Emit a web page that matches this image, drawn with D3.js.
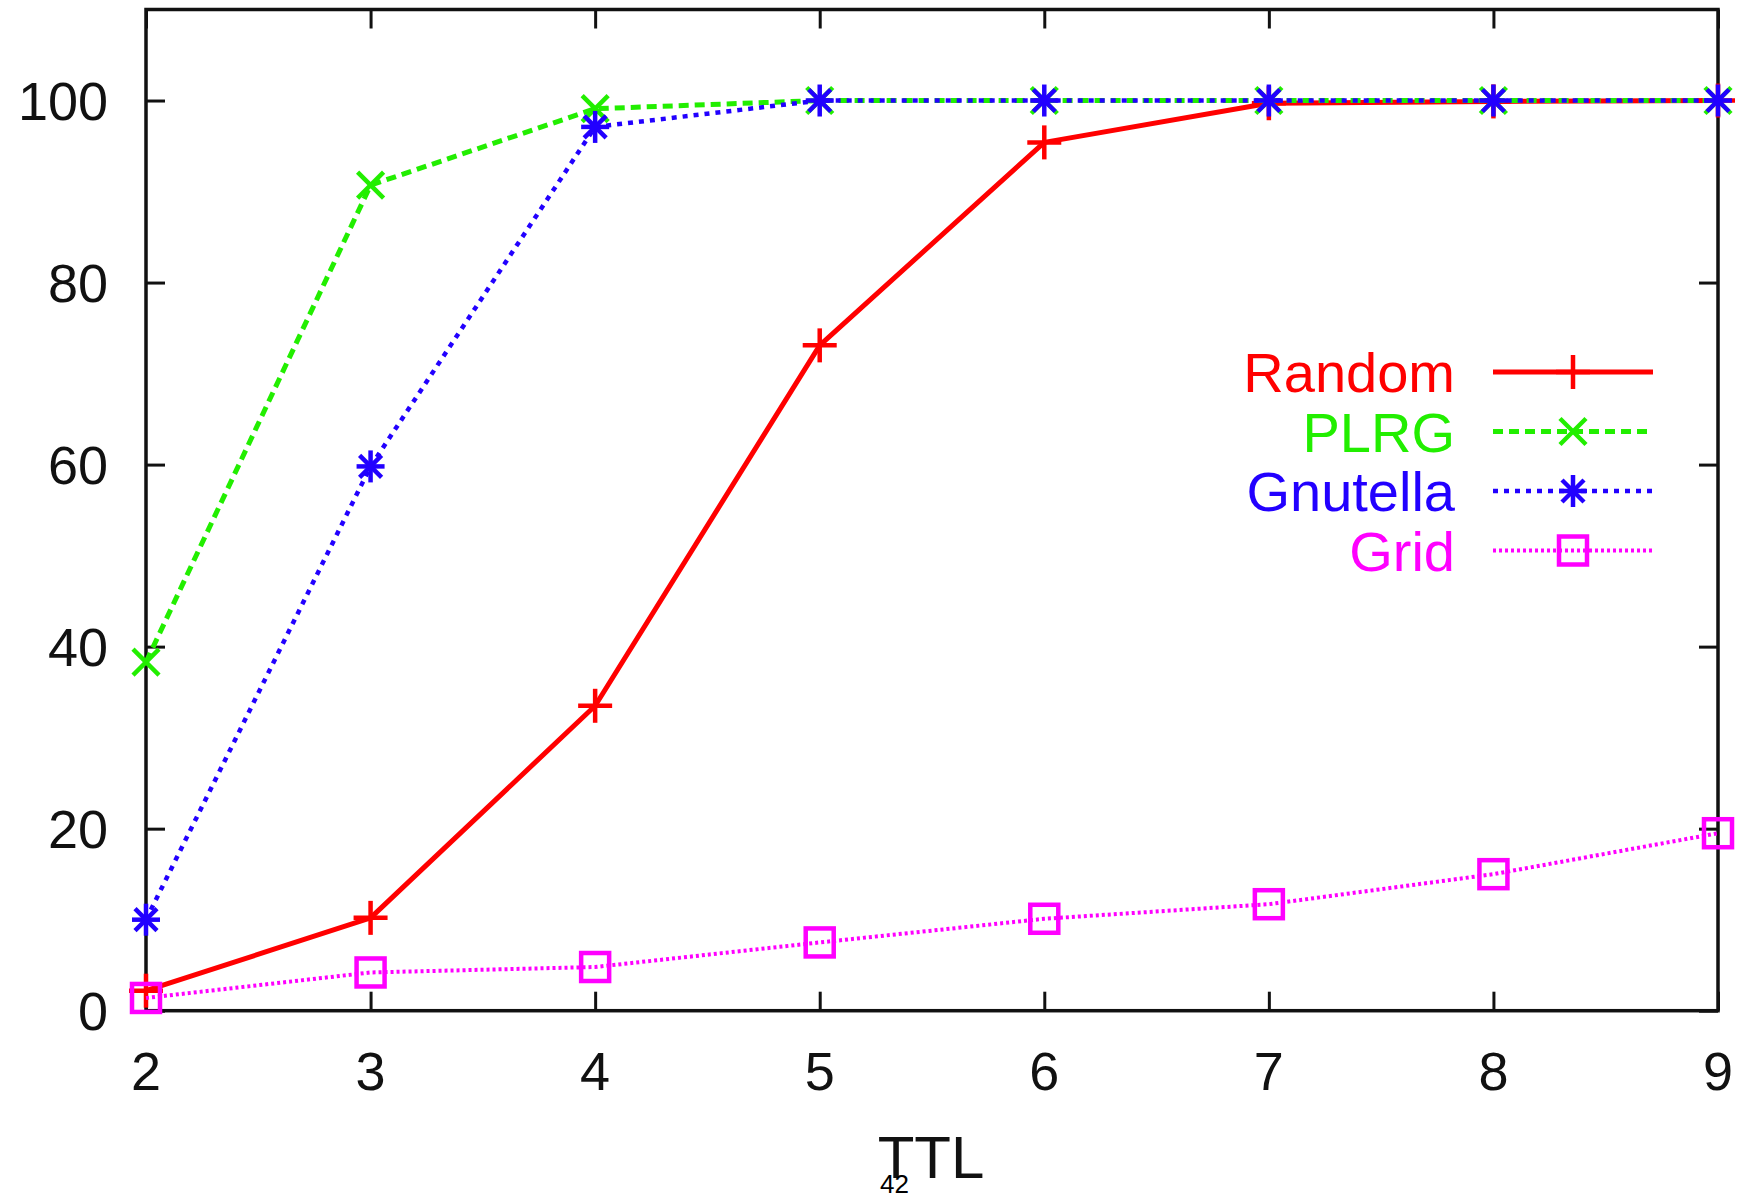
<!DOCTYPE html>
<html><head><meta charset="utf-8">
<script src="https://cdn.jsdelivr.net/npm/d3@7"></script>
<style>html,body{margin:0;padding:0;background:#fff;}svg{display:block;}</style>
</head><body>
<script>
const ttl = [2, 3, 4, 5, 6, 7, 8, 9];
const randomVals   = [2.2, 10.2, 33.5, 73.1, 95.4, 99.7, 99.9, 100];
const plrgVals     = [38.3, 90.7, 99.1, 100, 100, 100, 100, 100];
const gnutellaVals = [10.0, 59.8, 97.1, 100, 100, 100, 100, 100];
const gridVals     = [1.4, 4.2, 4.8, 7.5, 10.1, 11.7, 15.0, 19.5];
const yTicks = [0, 20, 40, 60, 80, 100];
const xTicks = [2, 3, 4, 5, 6, 7, 8, 9];
const seriesNames = ["Random", "PLRG", "Gnutella", "Grid"];

const W = 1738, H = 1199;
const L = 146, R = 1718, T = 9.5, B = 1010.7;
const font = "'Liberation Sans', Arial, Helvetica, sans-serif";

const svg = d3.select("body").append("svg").attr("width", W).attr("height", H);
const x = d3.scaleLinear().domain([2, 9]).range([L, R]);
const y = d3.scaleLinear().domain([0, 110]).range([B, T]);

const styles = [
  {name: seriesNames[0], vals: randomVals, color: "#ff0000", dash: null, w: 5, marker: "plus"},
  {name: seriesNames[1], vals: plrgVals, color: "#22ee00", dash: "10,6", w: 5, marker: "x"},
  {name: seriesNames[2], vals: gnutellaVals, color: "#2200ff", dash: "5,6", w: 4.5, marker: "star"},
  {name: seriesNames[3], vals: gridVals, color: "#ff00ff", dash: "3,3", w: 4, marker: "square"}
];

const tk = 19;
const axB = d3.axisBottom(x).tickValues(xTicks).tickSize(-tk).tickFormat("");
const axT = d3.axisTop(x).tickValues(xTicks).tickSize(-tk).tickFormat("");
const axL = d3.axisLeft(y).tickValues(yTicks).tickSize(-tk).tickFormat("");
const axR = d3.axisRight(y).tickValues(yTicks).tickSize(-tk).tickFormat("");
[[axB, `translate(0,${B})`], [axT, `translate(0,${T})`], [axL, `translate(${L},0)`], [axR, `translate(${R},0)`]].forEach(([a, t]) => {
  const g = svg.append("g").attr("transform", t).call(a);
  g.select(".domain").remove();
  g.selectAll("line").attr("stroke", "#111").attr("stroke-width", 3);
});

svg.append("rect").attr("x", L).attr("y", T).attr("width", R - L).attr("height", B - T)
  .attr("fill", "none").attr("stroke", "#111").attr("stroke-width", 3.5);

svg.append("g").selectAll("text").data(yTicks).join("text")
  .attr("x", 108).attr("y", d => y(d) + 19).attr("text-anchor", "end")
  .attr("font-family", font).attr("font-size", 54).attr("fill", "#111").text(d => d);
svg.append("g").selectAll("text").data(xTicks).join("text")
  .attr("x", d => x(d)).attr("y", 1090).attr("text-anchor", "middle")
  .attr("font-family", font).attr("font-size", 54).attr("fill", "#111").text(d => d);

svg.append("text").attr("x", 931).attr("y", 1178).attr("text-anchor", "middle")
  .attr("font-family", font).attr("font-size", 60).attr("fill", "#111").text("TTL");
svg.append("text").attr("x", 880).attr("y", 1193)
  .attr("font-family", font).attr("font-size", 26).attr("fill", "#000").text("42");

function drawMarker(g, type, cx, cy, color) {
  const sw = 4.5;
  const add = (x1, y1, x2, y2) => g.append("line").attr("x1", cx + x1).attr("y1", cy + y1)
    .attr("x2", cx + x2).attr("y2", cy + y2).attr("stroke", color).attr("stroke-width", sw);
  if (type === "plus") { add(-17, 0, 17, 0); add(0, -17, 0, 17); }
  else if (type === "x") { add(-13, -13, 13, 13); add(-13, 13, 13, -13); }
  else if (type === "star") { add(-14, 0, 14, 0); add(0, -16, 0, 16); add(-11, -11, 11, 11); add(-11, 11, 11, -11); }
  else if (type === "square") {
    g.append("rect").attr("x", cx - 14).attr("y", cy - 14).attr("width", 28).attr("height", 28)
      .attr("fill", "none").attr("stroke", color).attr("stroke-width", sw);
  }
}

const line = d3.line().x((d, i) => x(ttl[i])).y(d => y(d));
styles.forEach(s => {
  const g = svg.append("g");
  g.append("path").attr("d", line(s.vals)).attr("fill", "none").attr("stroke", s.color)
    .attr("stroke-width", s.w).attr("stroke-dasharray", s.dash).attr("stroke-linejoin", "round");
  s.vals.forEach((v, i) => drawMarker(g, s.marker, x(ttl[i]), y(v), s.color));
});

const lx1 = 1493, lx2 = 1653, lm = 1573, ly0 = 372, ldy = 59.5;
styles.forEach((s, i) => {
  const cy = ly0 + i * ldy;
  const g = svg.append("g");
  g.append("text").attr("x", 1455).attr("y", cy + 20).attr("text-anchor", "end")
    .attr("font-family", font).attr("font-size", 56).attr("fill", s.color).text(s.name);
  g.append("line").attr("x1", lx1).attr("x2", lx2).attr("y1", cy).attr("y2", cy)
    .attr("stroke", s.color).attr("stroke-width", s.w).attr("stroke-dasharray", s.dash);
  drawMarker(g, s.marker, lm, cy, s.color);
});
</script>
</body></html>
